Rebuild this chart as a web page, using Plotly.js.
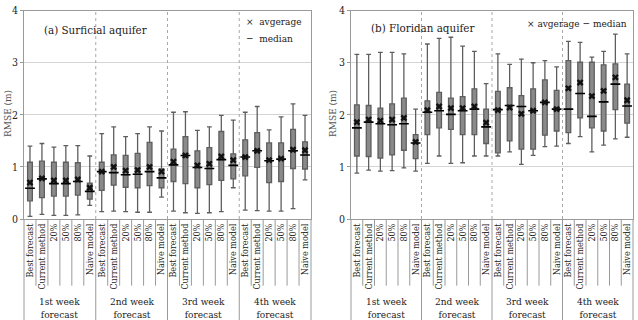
<!DOCTYPE html>
<html>
<head>
<meta charset="utf-8">
<script src="https://cdn.plot.ly/plotly-3.0.1.min.js"></script>
<style>html,body{margin:0;padding:0;background:#fff;}#chart{width:638px;height:320px;}</style>
</head>
<body>
<div id="chart"></div>
<script>
var categories = ['Best forecast', 'Current method', '20%', '50%', '80%', 'Naive model'];
var groups = ['1st week<br>forecast', '2nd week<br>forecast', '3rd week<br>forecast', '4th week<br>forecast'];

// (a) Surficial aquifer, 24 boxes (4 groups x 6 categories)
var surfUpper  = [1.40,1.45,1.38,1.41,1.41,1.21, 1.64,1.77,1.58,1.64,1.77,1.69, 2.05,2.06,1.70,1.77,1.99,1.90, 2.05,2.16,1.71,1.96,2.21,1.99];
var surfQ3     = [1.09,1.11,1.09,1.09,1.08,0.69, 1.09,1.23,1.22,1.26,1.47,0.96, 1.34,1.58,1.31,1.37,1.68,1.25, 1.52,1.66,1.46,1.46,1.72,1.48];
var surfMean   = [0.70,0.78,0.74,0.74,0.76,0.60, 0.91,1.00,0.93,0.94,1.00,0.91, 1.10,1.22,1.03,1.06,1.20,1.13, 1.19,1.31,1.13,1.16,1.33,1.32];
var surfMedian = [0.59,0.77,0.68,0.68,0.72,0.53, 0.91,0.89,0.85,0.86,0.91,0.79, 1.04,1.22,0.99,0.97,1.14,1.03, 1.19,1.31,1.12,1.15,1.31,1.23];
var surfQ1     = [0.35,0.41,0.44,0.44,0.46,0.38, 0.55,0.65,0.61,0.60,0.64,0.60, 0.72,0.68,0.60,0.66,0.74,0.77, 0.83,0.99,0.70,0.72,0.97,0.96];
var surfLower  = [0.05,0.09,0.07,0.07,0.08,0.26, 0.14,0.15,0.14,0.13,0.13,0.42, 0.15,0.12,0.11,0.12,0.14,0.60, 0.17,0.16,0.15,0.15,0.20,0.75];

// (b) Floridan aquifer
var florUpper  = [3.16,3.16,3.20,3.20,3.17,2.11, 3.36,3.47,3.49,3.32,3.22,2.60, 3.17,2.97,3.07,3.00,3.04,2.92, 3.41,3.39,3.11,3.22,3.55,3.17];
var florQ3     = [2.19,2.18,2.13,2.21,2.32,1.62, 2.27,2.43,2.32,2.35,2.50,2.11, 2.45,2.52,2.37,2.50,2.67,2.47, 3.04,3.01,3.01,2.96,2.98,2.59];
var florMean   = [1.86,1.91,1.89,1.91,1.94,1.48, 2.09,2.16,2.13,2.13,2.16,1.85, 2.09,2.14,2.02,2.08,2.24,2.11, 2.51,2.62,2.36,2.46,2.72,2.28];
var florMedian = [1.75,1.86,1.83,1.81,1.83,1.46, 2.05,2.08,2.01,2.08,2.11,1.77, 2.10,2.18,2.16,2.08,2.24,2.11, 2.11,2.41,1.97,2.25,2.59,2.17];
var florQ1     = [1.21,1.20,1.17,1.23,1.32,1.16, 1.62,1.75,1.72,1.62,1.62,1.45, 1.27,1.50,1.34,1.34,1.61,1.69, 1.66,1.94,1.75,1.69,2.10,1.84];
var florLower  = [0.88,0.94,0.92,0.93,0.98,0.92, 1.07,1.21,1.07,1.08,1.21,1.21, 1.21,1.29,1.05,1.22,1.39,1.40, 1.45,1.58,1.29,1.42,1.54,1.57];

var yTickVals = [0, 1, 2, 3, 4];

var nCat = categories.length, nGrp = groups.length, nAll = nCat * nGrp;
var xs = [], tickText = [];
for (var g = 0; g < nGrp; g++) for (var c = 0; c < nCat; c++) { xs.push(g * nCat + c); tickText.push(categories[c]); }

var serif = 'DejaVu Serif Condensed';
var txtCol = '#222';

function panel(xa, ya, up, q3, mn, md, q1, lo) {
  return [
    {type: 'box', x: xs, q1: q1, median: md, q3: q3, lowerfence: lo, upperfence: up,
     width: 0.4, whiskerwidth: 1, fillcolor: '#8a8a8a', line: {color: '#5e5e5e', width: 1.3},
     boxpoints: false, hoverinfo: 'skip', showlegend: false, xaxis: xa, yaxis: ya},
    {type: 'scatter', mode: 'markers', x: xs, y: md, xaxis: xa, yaxis: ya, showlegend: false, hoverinfo: 'skip',
     marker: {symbol: 'line-ew', size: 7, color: '#000', line: {color: '#000', width: 1.6}}},
    {type: 'scatter', mode: 'markers', x: xs, y: mn, xaxis: xa, yaxis: ya, showlegend: false, hoverinfo: 'skip',
     marker: {symbol: 'x', size: 6, color: '#111', line: {width: 0}}}
  ];
}

var data = panel('x', 'y', surfUpper, surfQ3, surfMean, surfMedian, surfQ1, surfLower)
  .concat(panel('x2', 'y2', florUpper, florQ3, florMean, florMedian, florQ1, florLower));

var yDom = [0.3156, 0.9666];
function xAxis(dom, anchor) {
  return {domain: dom, anchor: anchor, range: [-0.5, nAll - 0.5], tickmode: 'array', tickvals: xs, ticktext: tickText,
    tickangle: -90, showgrid: false, zeroline: false, showline: true, linecolor: '#9a9a9a', linewidth: 1, mirror: true,
    ticks: '', tickfont: {family: serif, size: 9, color: txtCol}, fixedrange: true};
}
function yAxis(anchor) {
  return {domain: yDom, anchor: anchor, range: [0, 4], tickmode: 'array', tickvals: yTickVals,
    showgrid: true, gridcolor: '#d4d4d4', gridwidth: 1, zeroline: false, showline: true, linecolor: '#9a9a9a',
    linewidth: 1, mirror: true, ticks: 'outside', ticklen: 3, tickcolor: '#9a9a9a',
    tickfont: {family: serif, size: 10.5, color: txtCol}, fixedrange: true};
}

var shapes = [], annotations = [];
[['x', 'y'], ['x2', 'y2']].forEach(function (p) {
  var xd = p[0] + ' domain', yd = p[1] + ' domain';
  for (var i = 0; i <= nAll; i++) {
    var isGroup = (i % nCat === 0);
    shapes.push({type: 'line', xref: xd, yref: yd, x0: i / nAll, x1: i / nAll, y0: 0, y1: isGroup ? -0.49 : -0.32,
      line: {color: '#9a9a9a', width: 1}});
    if (isGroup && i > 0 && i < nAll) {
      shapes.push({type: 'line', xref: xd, yref: yd, x0: i / nAll, x1: i / nAll, y0: 0, y1: 1,
        line: {color: '#a8a8a8', width: 1, dash: 'dot'}});
    }
  }
  for (var g = 0; g < nGrp; g++) {
    annotations.push({xref: xd, yref: 'paper', x: (g * nCat + nCat / 2) / nAll, y: 0, text: groups[g],
      showarrow: false, xanchor: 'center', yanchor: 'bottom', align: 'center', yshift: -2,
      font: {family: serif, size: 10, color: txtCol}});
  }
});

annotations.push(
  {xref: 'paper', yref: 'paper', x: 95 / 638, y: 1 - 30 / 320, text: '(a) Surficial aquifer', showarrow: false,
   xanchor: 'center', yanchor: 'middle', font: {family: serif, size: 11.5, color: txtCol}},
  {xref: 'paper', yref: 'paper', x: 422 / 638, y: 1 - 28 / 320, text: '(b) Floridan aquifer', showarrow: false,
   xanchor: 'center', yanchor: 'middle', font: {family: serif, size: 11.5, color: txtCol}},
  {xref: 'paper', yref: 'paper', x: 244 / 638, y: 1 - 22 / 320, text: '×  avgerage', showarrow: false,
   xanchor: 'left', yanchor: 'middle', font: {family: serif, size: 10, color: txtCol}},
  {xref: 'paper', yref: 'paper', x: 244 / 638, y: 1 - 38 / 320, text: '−  median', showarrow: false,
   xanchor: 'left', yanchor: 'middle', font: {family: serif, size: 10, color: txtCol}},
  {xref: 'paper', yref: 'paper', x: 525 / 638, y: 1 - 23 / 320, text: '× avgerage − median', showarrow: false,
   xanchor: 'left', yanchor: 'middle', font: {family: serif, size: 10, color: txtCol}},
  {xref: 'paper', yref: 'paper', x: 8 / 638, y: 1 - 114 / 320, text: 'RMSE (m)', textangle: -90, showarrow: false,
   xanchor: 'center', yanchor: 'middle', font: {family: serif, size: 10, color: '#555'}},
  {xref: 'paper', yref: 'paper', x: 333 / 638, y: 1 - 114 / 320, text: 'RMSE (m)', textangle: -90, showarrow: false,
   xanchor: 'center', yanchor: 'middle', font: {family: serif, size: 10, color: '#555'}}
);

var layout = {
  width: 638, height: 320, margin: {l: 0, r: 0, t: 0, b: 0},
  paper_bgcolor: '#fff', plot_bgcolor: '#fff', showlegend: false,
  font: {family: serif, color: txtCol},
  xaxis: xAxis([24 / 638, 311 / 638], 'y'), yaxis: yAxis('x'),
  xaxis2: xAxis([351 / 638, 633 / 638], 'y2'), yaxis2: yAxis('x2'),
  shapes: shapes, annotations: annotations
};

Plotly.newPlot('chart', data, layout, {staticPlot: true, displayModeBar: false});
</script>
</body>
</html>
